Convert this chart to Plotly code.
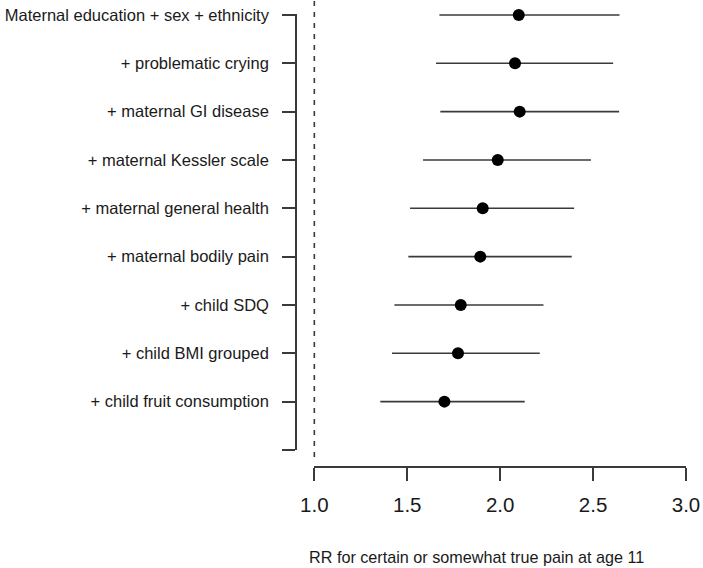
import plotly.graph_objects as go

# ---- data ----
models = [
    "Maternal education + sex + ethnicity",
    "+ problematic crying",
    "+ maternal GI disease",
    "+ maternal Kessler scale",
    "+ maternal general health",
    "+ maternal bodily pain",
    "+ child SDQ",
    "+ child BMI grouped",
    "+ child fruit consumption",
]
rr = [2.10, 2.08, 2.105, 1.987, 1.906, 1.893, 1.788, 1.773, 1.700]
ci_low = [1.673, 1.655, 1.678, 1.585, 1.515, 1.506, 1.431, 1.418, 1.355]
ci_high = [2.642, 2.608, 2.640, 2.489, 2.398, 2.385, 2.233, 2.213, 2.132]

x_ticks = [1.0, 1.5, 2.0, 2.5, 3.0]
x_tick_labels = ["1.0", "1.5", "2.0", "2.5", "3.0"]
null_value = 1.0
x_title = "RR for certain or somewhat true pain at age 11"

# ---- layout constants ----
W, H = 703, 568
ML, MR, MT, MB = 296, 17, 14, 101
X_RANGE = [1.0, 3.0]
X_DOMAIN = [0.047, 1.0]
Y_DOMAIN = [0.0376, 1.0]
FONT = "Liberation Sans, Arial, Helvetica, sans-serif"
INK = "#1a1a1a"
LINE = "#3a3a3a"
LW = 1.6

rows = list(range(1, len(models) + 1))
n_slots = len(models) + 1  # an empty slot at the bottom, as in the reference


def x_to_paper(v):
    frac = (v - X_RANGE[0]) / (X_RANGE[1] - X_RANGE[0])
    return X_DOMAIN[0] + frac * (X_DOMAIN[1] - X_DOMAIN[0])


fig = go.Figure()
fig.add_trace(go.Scatter(
    x=rr,
    y=rows,
    mode="markers",
    marker=dict(size=12, color="black", line=dict(width=0)),
    error_x=dict(
        type="data",
        symmetric=False,
        array=[h - m for h, m in zip(ci_high, rr)],
        arrayminus=[m - l for m, l in zip(rr, ci_low)],
        color=LINE,
        thickness=LW,
        width=0,
    ),
    cliponaxis=False,
    showlegend=False,
    hoverinfo="skip",
))

fig.update_layout(
    template="none",
    width=W,
    height=H,
    margin=dict(l=ML, r=MR, t=MT, b=MB, pad=0, autoexpand=False),
    plot_bgcolor="white",
    paper_bgcolor="white",
    font=dict(family=FONT, color=INK),
    xaxis=dict(
        domain=X_DOMAIN,
        range=X_RANGE,
        anchor="free",
        position=0,
        automargin=False,
        showgrid=False,
        zeroline=False,
        showline=True,
        linecolor=LINE,
        linewidth=LW,
        ticks="outside",
        ticklen=13,
        tickwidth=LW,
        tickcolor=LINE,
        tickvals=x_ticks,
        ticktext=x_tick_labels,
        ticklabelstandoff=7,
        tickfont=dict(size=20.5, family=FONT, color=INK),
    ),
    yaxis=dict(
        domain=Y_DOMAIN,
        range=[n_slots, 0.98],
        autorange=False,
        anchor="free",
        position=0,
        automargin=False,
        showgrid=False,
        zeroline=False,
        showline=True,
        linecolor=LINE,
        linewidth=LW,
        ticks="outside",
        ticklen=13,
        tickwidth=LW,
        tickcolor=LINE,
        tickvals=list(range(1, n_slots + 1)),
        ticktext=models + [""],
        ticklabelstandoff=10,
        tickfont=dict(size=16.5, family=FONT, color=INK),
    ),
    shapes=[dict(
        type="line",
        xref="paper", yref="paper",
        x0=x_to_paper(null_value), x1=x_to_paper(null_value),
        y0=0.022, y1=1.04,
        line=dict(color=LINE, width=LW, dash="5px,6px"),
    )],
    annotations=[dict(
        text=x_title,
        xref="paper", yref="paper",
        x=0.4633, y=-0.199,
        xanchor="center", yanchor="middle",
        showarrow=False,
        font=dict(size=16.2, family=FONT, color=INK),
    )],
)

fig.write_html(
    "out.html",
    config={"displayModeBar": False},
    post_script="document.body.style.margin='0';document.body.style.overflow='hidden';",
)
